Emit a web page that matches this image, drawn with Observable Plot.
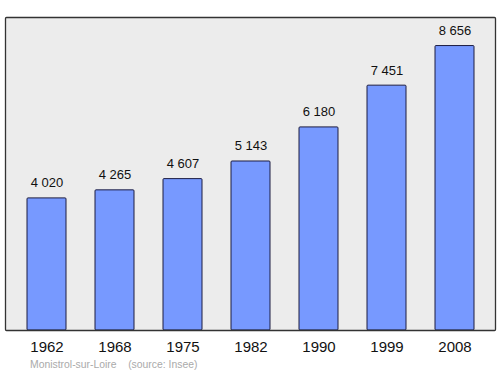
<!DOCTYPE html>
<html>
<head>
<meta charset="utf-8">
<script src="https://cdn.jsdelivr.net/npm/d3@7"></script>
<script src="https://cdn.jsdelivr.net/npm/@observablehq/plot@0.6"></script>
<style>
  html, body { margin: 0; padding: 0; background: #fff; }
  body { font-family: "Liberation Sans", Arial, sans-serif; width: 500px; height: 374px; overflow: hidden; }
  #caption { height: 18px; line-height: 18px; font-size: 10.4px; color: #aaaaaa; padding-left: 30px; white-space: pre; }
</style>
</head>
<body>
<div id="chart"></div>
<div id="caption">Monistrol-sur-Loire    (source: Insee)</div>
<script>
const years = ["1962", "1968", "1975", "1982", "1990", "1999", "2008"];
const population = [4020, 4265, 4607, 5143, 6180, 7451, 8656];

const data = years.map((y, i) => ({year: y, pop: population[i]}));
const fmt = d3.formatLocale({thousands: " ", grouping: [3], decimal: ","}).format(",d");

const chart = Plot.plot({
  width: 500,
  height: 356,
  marginLeft: 5,
  marginRight: 5,
  marginTop: 17,
  marginBottom: 26,
  style: {fontFamily: "Liberation Sans, Arial, sans-serif", background: "#fff"},
  x: {domain: years, paddingInner: 0.43, paddingOuter: 0.3},
  y: {domain: [0, 9525], axis: null},
  marks: [
    Plot.frame({fill: "#ececec", stroke: null}),
    Plot.barY(data, {x: "year", y: "pop", fill: "#7799ff", stroke: "#1c1c40", strokeWidth: 1, rx: 1}),
    Plot.text(data, {x: "year", y: "pop", text: d => fmt(d.pop), lineAnchor: "bottom", dy: -11, fontSize: 13, fill: "#111"}),
    Plot.frame({stroke: "#333", strokeWidth: 1.3, rx: 1}),
    Plot.axisX({tickSize: 0, tickPadding: 11, fontSize: 15, label: null, color: "#111"})
  ]
});
document.getElementById("chart").appendChild(chart);
</script>
</body>
</html>
